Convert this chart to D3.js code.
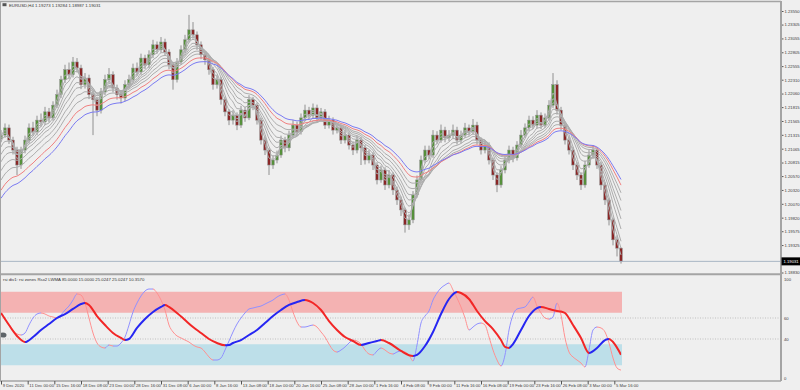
<!DOCTYPE html>
<html>
<head>
<meta charset="utf-8">
<script src="https://cdn.jsdelivr.net/npm/d3@7"></script>
<style>
html, body { margin: 0; padding: 0; background: #efefef; }
svg { display: block; font-family: "Liberation Sans", Arial, sans-serif; }
</style>
</head>
<body>
<div id="chart"></div>
<script>
// EURUSD H4 candles (one candle per plotted slot)
var firstOpen = 1.2125;
var closes = [
  1.2131,1.2144,1.2122,1.2104,1.2077,1.2104,1.2122,1.2144,1.2137,1.2158,
  1.2155,1.2173,1.2162,1.2185,1.2204,1.2231,1.2249,1.2240,1.2263,1.2252,
  1.2222,1.2234,1.2204,1.2195,1.2176,1.2209,1.2231,1.2240,1.2216,1.2204,
  1.2198,1.2222,1.2231,1.2252,1.2245,1.2270,1.2258,1.2276,1.2294,1.2285,
  1.2299,1.2281,1.2258,1.2231,1.2263,1.2285,1.2303,1.2321,1.2312,1.2294,
  1.2276,1.2267,1.2249,1.2222,1.2231,1.2195,1.2173,1.2158,1.2167,1.2149,
  1.2176,1.2162,1.2195,1.2185,1.2158,1.2122,1.2104,1.2077,1.2086,1.2095,
  1.2122,1.2108,1.2131,1.2149,1.2137,1.2162,1.2176,1.2167,1.2180,1.2162,
  1.2173,1.2149,1.2158,1.2140,1.2144,1.2122,1.2131,1.2113,1.2104,1.2122,
  1.2108,1.2086,1.2095,1.2077,1.2050,1.2068,1.2041,1.2059,1.2032,1.2014,
  1.1996,1.1969,1.1978,1.2023,1.2050,1.2086,1.2104,1.2095,1.2131,1.2122,
  1.2140,1.2126,1.2131,1.2140,1.2122,1.2131,1.2144,1.2137,1.2149,1.2122,
  1.2104,1.2113,1.2086,1.2059,1.2041,1.2068,1.2086,1.2104,1.2090,1.2113,
  1.2131,1.2144,1.2158,1.2149,1.2167,1.2149,1.2162,1.2185,1.2222,1.2176,
  1.2149,1.2122,1.2104,1.2077,1.2059,1.2041,1.2077,1.2095,1.2104,1.2077,
  1.2041,1.2014,1.1978,1.1942,1.1927,1.1903
];
var highs = [
  1.2140,1.2152,1.2150,1.2128,1.2110,1.2110,1.2130,1.2152,1.2155,1.2166,
  1.2170,1.2182,1.2180,1.2192,1.2213,1.2238,1.2258,1.2262,1.2272,1.2270,
  1.2258,1.2243,1.2240,1.2212,1.2200,1.2216,1.2240,1.2252,1.2246,1.2222,
  1.2212,1.2230,1.2240,1.2260,1.2262,1.2278,1.2276,1.2284,1.2303,1.2300,
  1.2308,1.2305,1.2286,1.2262,1.2270,1.2293,1.2312,1.2348,1.2335,1.2318,
  1.2300,1.2282,1.2272,1.2254,1.2240,1.2236,1.2200,1.2178,1.2176,1.2172,
  1.2184,1.2182,1.2203,1.2200,1.2190,1.2162,1.2128,1.2108,1.2094,1.2103,
  1.2130,1.2128,1.2139,1.2158,1.2155,1.2170,1.2186,1.2182,1.2188,1.2186,
  1.2180,1.2178,1.2166,1.2163,1.2152,1.2150,1.2140,1.2136,1.2120,1.2130,
  1.2128,1.2113,1.2104,1.2100,1.2082,1.2076,1.2073,1.2068,1.2064,1.2038,
  1.2020,1.2000,1.1988,1.2030,1.2058,1.2094,1.2112,1.2112,1.2140,1.2138,
  1.2150,1.2146,1.2140,1.2150,1.2146,1.2139,1.2153,1.2150,1.2160,1.2155,
  1.2127,1.2121,1.2118,1.2090,1.2064,1.2075,1.2094,1.2112,1.2110,1.2120,
  1.2140,1.2152,1.2166,1.2165,1.2176,1.2172,1.2170,1.2194,1.2243,1.2230,
  1.2182,1.2155,1.2128,1.2110,1.2082,1.2064,1.2085,1.2104,1.2113,1.2108,
  1.2082,1.2046,1.2018,1.1982,1.1950,1.1928
];
var lows = [
  1.2118,1.2126,1.2115,1.2096,1.2059,1.2070,1.2098,1.2116,1.2130,1.2131,
  1.2146,1.2149,1.2154,1.2157,1.2180,1.2198,1.2225,1.2232,1.2235,1.2244,
  1.2214,1.2215,1.2196,1.2131,1.2165,1.2170,1.2203,1.2225,1.2208,1.2195,
  1.2188,1.2192,1.2215,1.2226,1.2238,1.2240,1.2250,1.2252,1.2270,1.2278,
  1.2280,1.2274,1.2250,1.2213,1.2226,1.2258,1.2280,1.2298,1.2305,1.2285,
  1.2268,1.2258,1.2240,1.2213,1.2215,1.2186,1.2165,1.2149,1.2150,1.2140,
  1.2144,1.2155,1.2158,1.2176,1.2150,1.2114,1.2095,1.2059,1.2070,1.2080,
  1.2090,1.2100,1.2102,1.2125,1.2130,1.2132,1.2156,1.2160,1.2160,1.2155,
  1.2156,1.2142,1.2143,1.2132,1.2134,1.2115,1.2116,1.2105,1.2095,1.2098,
  1.2077,1.2078,1.2080,1.2068,1.2042,1.2045,1.2032,1.2035,1.2023,1.2005,
  1.1985,1.1955,1.1960,1.1972,1.2018,1.2045,1.2080,1.2088,1.2090,1.2115,
  1.2117,1.2118,1.2120,1.2125,1.2114,1.2116,1.2126,1.2130,1.2132,1.2114,
  1.2096,1.2098,1.2078,1.2050,1.2028,1.2036,1.2062,1.2080,1.2082,1.2085,
  1.2108,1.2126,1.2138,1.2142,1.2143,1.2142,1.2144,1.2157,1.2180,1.2168,
  1.2140,1.2114,1.2096,1.2068,1.2050,1.2032,1.2036,1.2072,1.2088,1.2070,
  1.2032,1.2005,1.1968,1.1932,1.1912,1.1899
];

// moving average ribbon: periods (in plotted candles) and their values at the first candle
var maPeriods = [2, 3, 4, 6, 8, 10, 13, 16, 20, 24];
var maSeeds = [1.2126, 1.2120, 1.2111, 1.2101, 1.2086, 1.2072, 1.2056, 1.2039, 1.2021, 1.2007];

// price scale labels (1.19075 sits under the last-price tag and is left out)
var priceTicks = [1.23550, 1.23305, 1.23055, 1.22805, 1.22555, 1.22310, 1.22060, 1.21815,
  1.21565, 1.21315, 1.21065, 1.20815, 1.20570, 1.20320, 1.20070, 1.19820, 1.19575,
  1.19325, 1.18830];
var lastQuote = [1.19273, 1.19284, 1.18987, 1.19031];

var timeLabels = ["9 Dec 2020", "11 Dec 00:00", "15 Dec 16:00", "18 Dec 08:00", "23 Dec 00:00",
  "28 Dec 16:00", "31 Dec 08:00", "6 Jan 00:00", "8 Jan 16:00", "13 Jan 08:00", "18 Jan 00:00",
  "20 Jan 16:00", "25 Jan 08:00", "28 Jan 00:00", "1 Feb 16:00", "4 Feb 08:00", "9 Feb 00:00",
  "11 Feb 16:00", "16 Feb 08:00", "19 Feb 00:00", "23 Feb 16:00", "26 Feb 08:00", "3 Mar 00:00",
  "5 Mar 16:00"];
var timeTickIdx = [0, 6.67, 13.33, 20, 26.67, 33.33, 40, 46.67, 53.33, 60, 66.67, 73.33, 80,
  86.67, 93.33, 100, 106.67, 113.33, 120, 126.67, 133.33, 140, 146.67, 153.33];

// rsi zones indicator: fast RSX line (one value per candle)
var rsxFast = [
  64.8,59.0,53.3,48.6,44.8,43.8,45.7,53.3,60.0,63.8,
  64.8,63.8,61.9,61.0,60.0,62.9,67.6,71.4,77.1,82.9,
  81.9,74.3,60.0,45.7,36.2,32.4,31.4,34.3,33.3,33.3,
  36.2,41.9,53.3,65.7,74.3,81.0,85.7,87.6,87.6,83.8,
  77.1,67.6,53.3,46.7,42.9,41.0,39.0,37.1,34.3,32.4,
  31.4,27.6,22.9,20.0,20.0,21.9,29.5,38.1,46.7,54.3,
  60.0,64.8,68.6,69.5,70.5,71.4,73.3,75.2,77.1,80.0,
  81.9,82.9,77.1,65.7,56.2,51.4,51.4,52.4,53.3,51.4,
  46.7,41.9,35.2,29.5,27.6,29.5,32.4,36.2,39.0,38.1,
  35.2,29.5,25.7,24.8,28.6,31.4,29.5,26.7,25.7,27.6,
  28.6,27.6,24.8,19.0,34.3,55.2,61.9,66.7,77.1,83.8,
  88.6,91.4,93.3,86.7,79.0,70.5,60.0,48.6,51.4,54.3,
  55.2,53.3,41.9,29.5,20.0,14.3,24.8,48.6,62.9,68.6,
  69.5,70.5,75.2,80.0,71.4,64.8,60.0,59.0,61.0,74.3,
  62.9,41.0,27.6,22.9,20.0,17.1,13.3,29.5,48.6,51.4,
  50.5,46.7,36.2,21.9,12.4,10.4
];
// smoothed (LWMA) line: [candle, value]
var rsxSlow = [[0,64.8],[2,53.3],[4,42.9],[6,37.1],[8,41.9],[10,48.6],[12,54.3],[14,60.0],
  [16,63.8],[18,68.6],[20,73.3],[21,74.3],[22,72.4],[24,61.9],[26,53.3],[28,45.7],[30,41.0],
  [31,39.0],[32,40.0],[34,50.5],[36,59.0],[38,65.7],[40,70.5],[41,72.4],[42,70.5],[44,64.8],
  [46,58.1],[48,51.4],[50,45.7],[52,40.0],[54,36.2],[56,34.0],[57,34.3],[58,36.2],[60,39.0],
  [62,43.8],[64,48.6],[66,55.2],[68,61.9],[70,67.6],[72,72.4],[74,75.2],[76,77.1],[77,76.2],
  [78,74.3],[80,67.6],[82,57.1],[84,48.6],[86,41.9],[88,38.1],[90,34.3],[92,36.2],[94,38.1],
  [95,39.0],[97,36.2],[100,28.6],[103,23.8],[104,24.8],[106,33.3],[108,46.7],[110,63.8],
  [112,78.1],[114,84.8],[115,83.8],[117,78.1],[119,66.7],[121,57.1],[123,49.5],[125,39.0],
  [126,32.4],[127,31.4],[128,35.2],[130,48.6],[132,61.9],[134,69.5],[135,70.5],[137,68.6],
  [139,66.7],[140,66.2],[141,64.8],[143,53.3],[145,41.0],[147,26.7],[149,31.4],[151,39.0],
  [152,40.0],[153,37.1],[155,25.0]];
var rsiBands = [[65, 85], [15, 35]];
var rsiLevels = [60, 40];
var rsiTicks = [100, 60, 40, 0];

(function() {
    var width = 800,
        height = 390;
    var axisX = 781,
        mainTop = 3, mainBottom = 273,
        subTop = 276, subBottom = 381;

    var svg = d3.select("#chart")
        .append("svg")
        .attr("width", width)
        .attr("height", height);

    svg.append("rect")
        .attr("width", width)
        .attr("height", height)
        .attr("fill", "#efefef");

    var defs = svg.append("defs");
    defs.append("clipPath").attr("id", "mainClip")
        .append("rect").attr("x", 0).attr("y", mainTop).attr("width", axisX - 1).attr("height", mainBottom - mainTop);

    var x = d3.scaleLinear().domain([0, 155]).range([1, 621]);
    var y = d3.scaleLinear().domain([1.18830, 1.23550]).range([272.5, 11]);
    var yr = d3.scaleLinear().domain([0, 100]).range([subBottom, subTop]);

    var candles = closes.map(function(c, i) {
        return { i: i, open: i === 0 ? firstOpen : closes[i - 1], high: highs[i], low: lows[i], close: c };
    });

    // ---------- main price panel ----------
    var main = svg.append("g").attr("clip-path", "url(#mainClip)");

    main.selectAll(".wick")
        .data(candles)
        .enter().append("line")
        .attr("class", "wick")
        .attr("x1", function(d) { return x(d.i); })
        .attr("x2", function(d) { return x(d.i); })
        .attr("y1", function(d) { return y(d.high); })
        .attr("y2", function(d) { return y(d.low); })
        .attr("stroke", "#909090")
        .attr("stroke-width", 1);

    main.selectAll(".body")
        .data(candles)
        .enter().append("rect")
        .attr("class", "body")
        .attr("x", function(d) { return x(d.i) - 1.3; })
        .attr("width", 2.6)
        .attr("y", function(d) { return y(Math.max(d.open, d.close)); })
        .attr("height", function(d) { return Math.max(0.8, Math.abs(y(d.open) - y(d.close))); })
        .attr("fill", function(d) { return d.close >= d.open ? "#55903a" : "#8a2626"; })
        .attr("stroke", "#909090")
        .attr("stroke-width", 0.5);

    // ribbon of exponential averages built from the closes
    var maLines = maPeriods.map(function(p, k) {
        var a = 2 / (p + 1), v = maSeeds[k];
        return closes.map(function(c, i) {
            v = v + a * (c - v);
            return [i, v];
        });
    });
    var maLine = d3.line()
        .x(function(d) { return x(d[0]); })
        .y(function(d) { return y(d[1]); })
        .curve(d3.curveMonotoneX);

    main.selectAll(".ma")
        .data(maLines)
        .enter().append("path")
        .attr("class", "ma")
        .attr("d", maLine)
        .attr("fill", "none")
        .attr("stroke", function(d, k) {
            if (k === maLines.length - 1) return "#7b7bf2";
            if (k === maLines.length - 2) return "#f08080";
            return "#adadad";
        })
        .attr("stroke-width", 1);

    // current price line
    var lastY = y(lastQuote[3]);
    svg.append("line")
        .attr("x1", 0).attr("x2", axisX)
        .attr("y1", lastY).attr("y2", lastY)
        .attr("stroke", "#a9b6c4")
        .attr("stroke-width", 1);

    // ---------- indicator panel ----------
    var sub = svg.append("g");

    sub.selectAll(".band")
        .data(rsiBands)
        .enter().append("rect")
        .attr("class", "band")
        .attr("x", 0)
        .attr("width", x(155) + 1)
        .attr("y", function(d) { return yr(d[1]); })
        .attr("height", function(d) { return yr(d[0]) - yr(d[1]); })
        .attr("fill", function(d, i) { return i === 0 ? "#f4b2b2" : "#bddfe9"; });

    sub.selectAll(".level")
        .data(rsiLevels)
        .enter().append("line")
        .attr("class", "level")
        .attr("x1", 0).attr("x2", axisX - 1)
        .attr("y1", function(d) { return yr(d); })
        .attr("y2", function(d) { return yr(d); })
        .attr("stroke", "#b4b4b4")
        .attr("stroke-width", 0.8)
        .attr("stroke-dasharray", "1,1.5");

    var rsiLine = d3.line()
        .x(function(d) { return x(d[0]); })
        .y(function(d) { return yr(d[1]); })
        .curve(d3.curveMonotoneX);

    // draw a line blue where it rises and red where it falls
    function slopeLine(pts, id, upColor, downColor, w) {
        ["up", "down"].forEach(function(dir) {
            var cp = defs.append("clipPath").attr("id", id + dir);
            for (var k = 0; k < pts.length - 1; k++) {
                var rising = pts[k + 1][1] >= pts[k][1];
                if ((dir === "up") === rising) {
                    cp.append("rect")
                        .attr("x", x(pts[k][0]) - 0.2)
                        .attr("y", subTop - 6)
                        .attr("width", x(pts[k + 1][0]) - x(pts[k][0]) + 0.4)
                        .attr("height", subBottom - subTop + 12);
                }
            }
            sub.append("path")
                .datum(pts)
                .attr("d", rsiLine)
                .attr("clip-path", "url(#" + id + dir + ")")
                .attr("fill", "none")
                .attr("stroke", dir === "up" ? upColor : downColor)
                .attr("stroke-width", w)
                .attr("stroke-linejoin", "round");
        });
    }

    slopeLine(rsxFast.map(function(v, i) { return [i, v]; }), "fast", "#9090ff", "#ff9090", 1);
    slopeLine(rsxSlow, "slow", "#2626f2", "#f22626", 2);

    // little object marker at the left of the sub window
    sub.append("ellipse")
        .attr("cx", 3).attr("cy", 335)
        .attr("rx", 3.5).attr("ry", 2.6)
        .attr("fill", "#5e6468");

    // ---------- frames ----------
    var frame = svg.append("g").attr("stroke", "#a4a4a4").attr("fill", "none");
    frame.append("line").attr("x1", 0).attr("x2", axisX).attr("y1", 1.5).attr("y2", 1.5).attr("stroke-width", 1.5);
    frame.append("line").attr("x1", 0).attr("x2", axisX).attr("y1", 274.2).attr("y2", 274.2).attr("stroke-width", 2);
    frame.append("line").attr("x1", 0).attr("x2", axisX).attr("y1", subBottom).attr("y2", subBottom).attr("stroke-width", 1.5);
    frame.append("line").attr("x1", 0.5).attr("x2", 0.5).attr("y1", 1.5).attr("y2", subBottom).attr("stroke-width", 1);
    frame.append("line").attr("x1", axisX).attr("x2", axisX).attr("y1", 1).attr("y2", subBottom).attr("stroke-width", 2);

    // ---------- axes ----------
    var fs = 4.2;

    var priceAxis = svg.append("g")
        .attr("transform", "translate(" + (axisX + 1) + ",0)")
        .call(d3.axisRight(y).tickValues(priceTicks).tickSize(1.5).tickPadding(1)
            .tickFormat(d3.format(".5f")));
    priceAxis.select(".domain").remove();
    priceAxis.attr("font-size", fs).attr("font-family", "Liberation Sans, Arial, sans-serif");
    priceAxis.selectAll("text").attr("fill", "#3c3c3c");
    priceAxis.selectAll("line").attr("stroke", "#555");

    // last price tag
    svg.append("rect")
        .attr("x", axisX + 0.5).attr("y", lastY - 4)
        .attr("width", width - axisX).attr("height", 8)
        .attr("fill", "#000");
    svg.append("text")
        .attr("x", axisX + 2.5).attr("y", lastY + 1.5)
        .attr("font-size", fs)
        .attr("fill", "#fff")
        .text(d3.format(".5f")(lastQuote[3]));

    svg.selectAll(".rsiTick")
        .data(rsiTicks)
        .enter().append("text")
        .attr("class", "rsiTick")
        .attr("x", axisX + 3)
        .attr("y", function(d) { return Math.min(Math.max(yr(d), subTop + 3), subBottom - 3) + 1.5; })
        .attr("font-size", fs)
        .attr("fill", "#3c3c3c")
        .text(function(d) { return d; });

    var timeAxis = svg.append("g")
        .attr("transform", "translate(0," + subBottom + ")")
        .call(d3.axisBottom(x).tickValues(timeTickIdx).tickSize(3.5).tickPadding(0)
            .tickFormat(function(d, i) { return timeLabels[i]; }));
    timeAxis.select(".domain").remove();
    timeAxis.attr("font-size", fs).attr("font-family", "Liberation Sans, Arial, sans-serif");
    timeAxis.selectAll("line").attr("stroke", "#555");
    timeAxis.selectAll("text")
        .attr("text-anchor", "start")
        .attr("x", 1.2)
        .attr("y", 2.6)
        .attr("fill", "#3c3c3c");

    // ---------- titles ----------
    svg.append("rect").attr("x", 2.5).attr("y", 3.2).attr("width", 4).attr("height", 3)
        .attr("fill", "#555");
    svg.append("text")
        .attr("x", 9).attr("y", 6.6)
        .attr("font-size", 4.3)
        .attr("fill", "#333")
        .text("EURUSD,H4  " + lastQuote.map(d3.format(".5f")).join(" "));

    svg.append("text")
        .attr("x", 3).attr("y", 281.3)
        .attr("font-size", 4.3)
        .attr("fill", "#333")
        .text("rsi div1: rsi zones Rsx2 LWMA 85.0000 15.0000 25.0247 25.0247 10.3570");
})();
</script>
</body>
</html>
